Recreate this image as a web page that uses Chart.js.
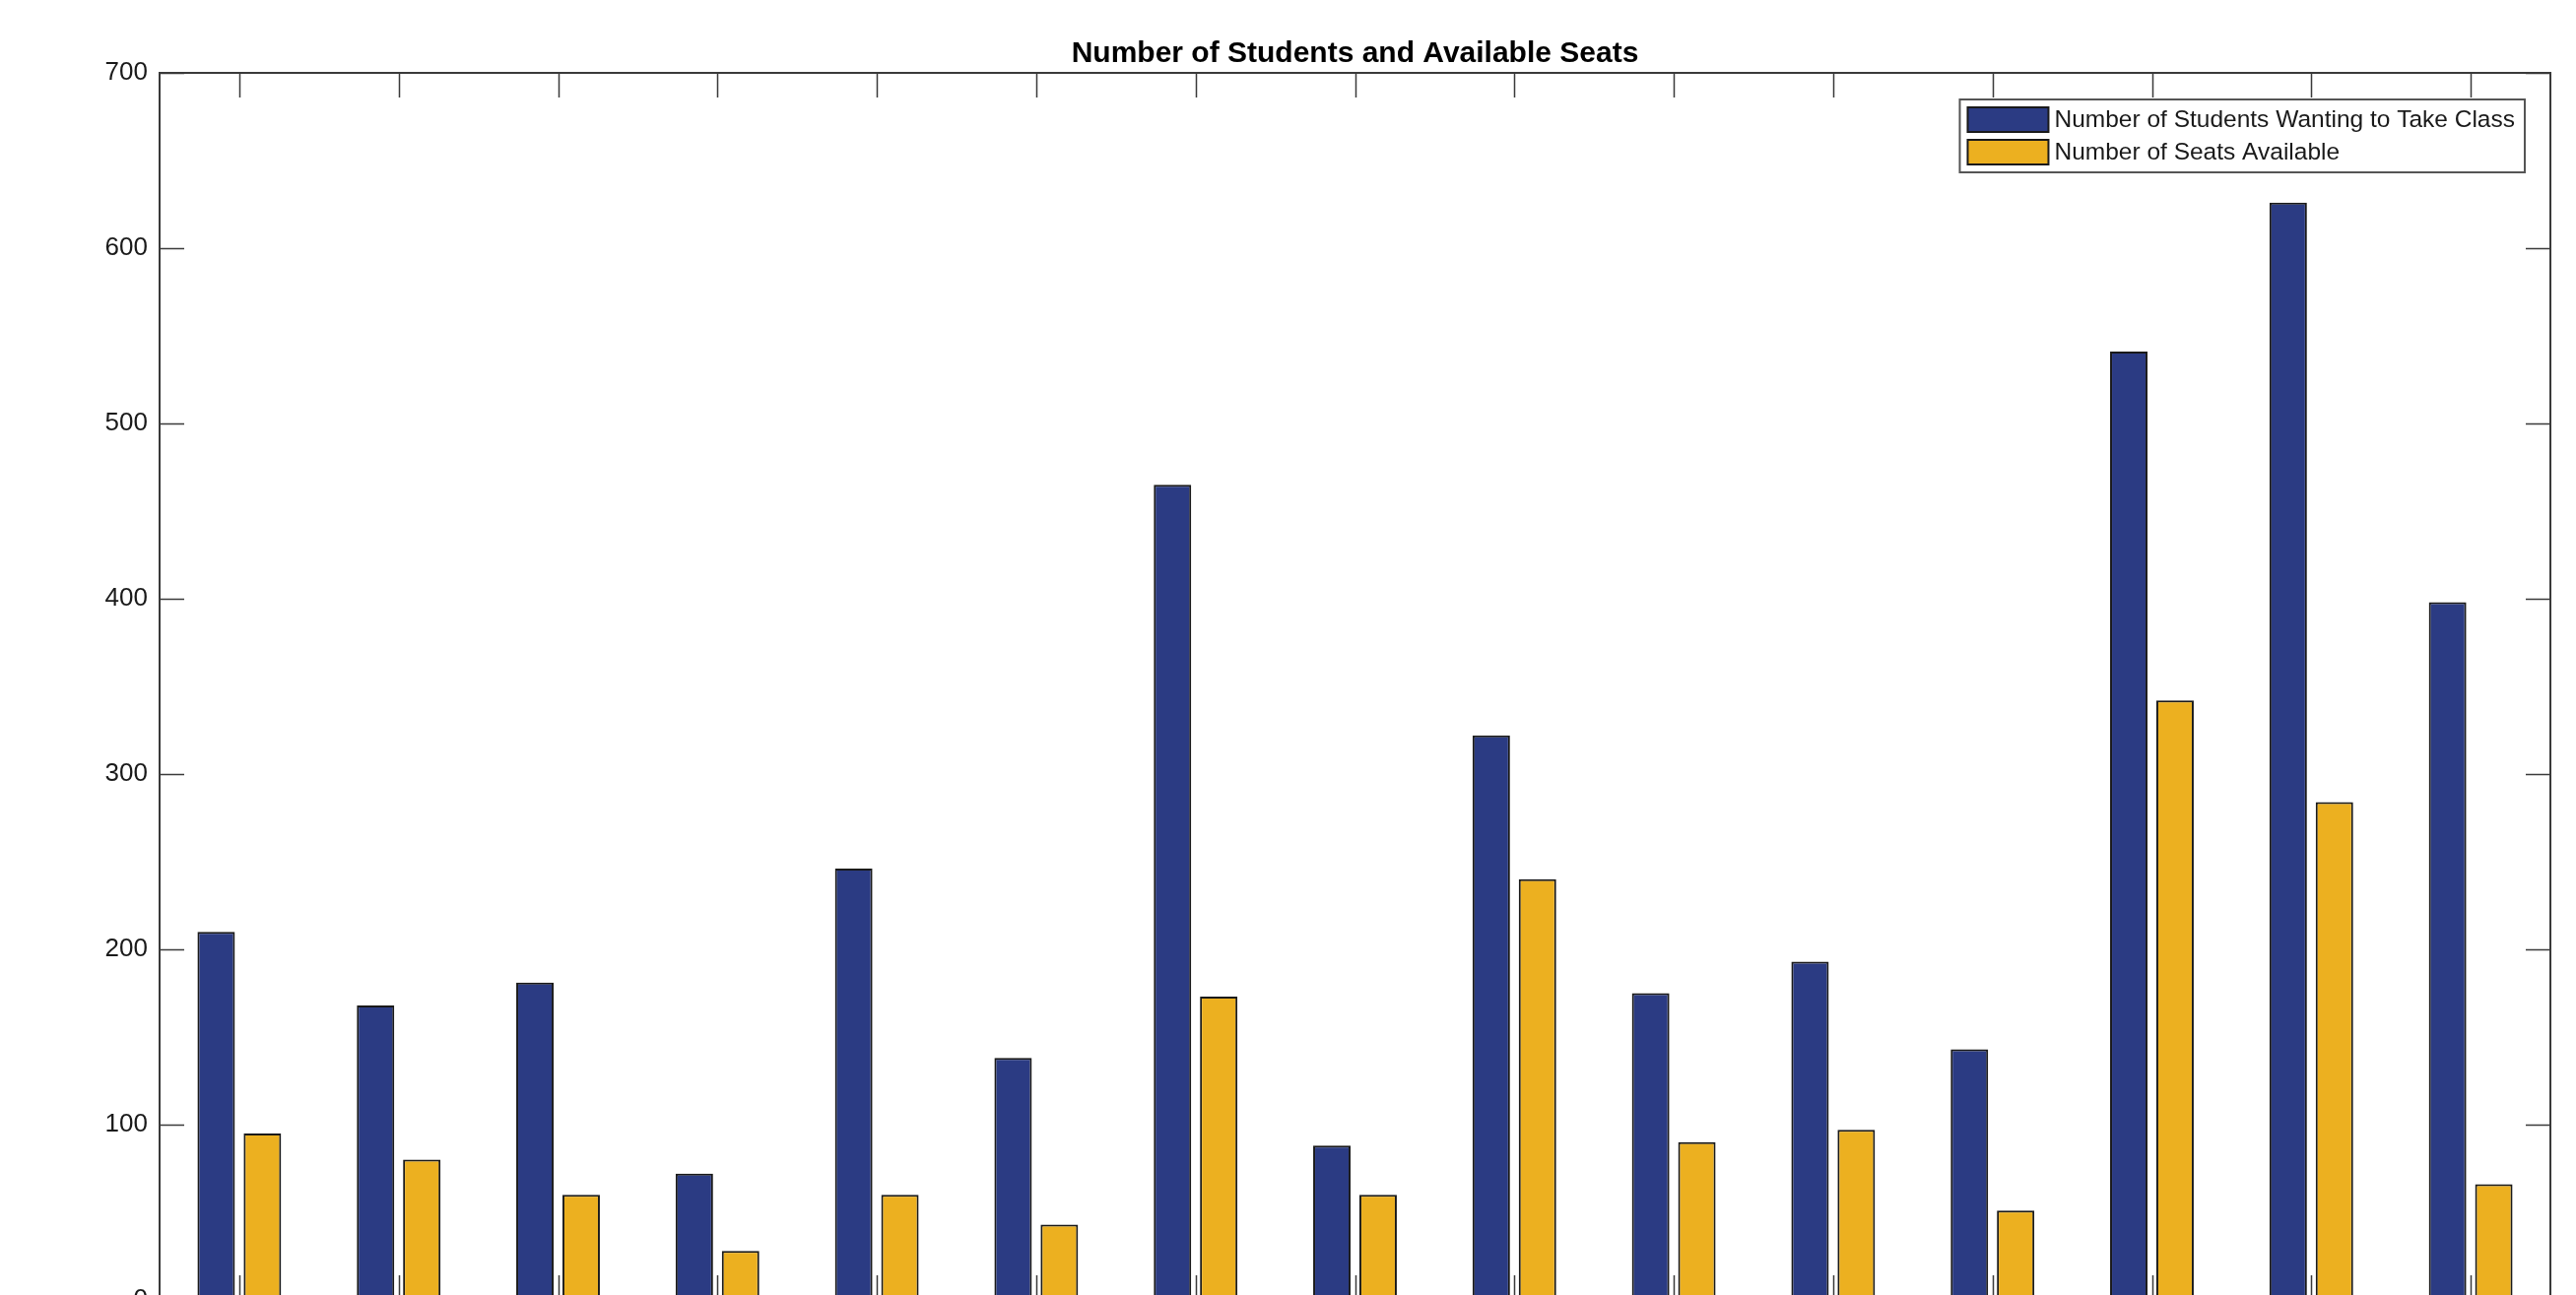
<!DOCTYPE html>
<html>
<head>
<meta charset="utf-8">
<script src="https://cdn.jsdelivr.net/npm/chart.js@4"></script>
<style>
  html, body { margin: 0; padding: 0; background: #fff; overflow: hidden; }
  #wrap { width: 2615px; height: 1400px; }
</style>
</head>
<body>
<div id="wrap"><canvas id="myChart" width="2615" height="1400"></canvas></div>
<script>
// data
const classes = ['1','2','3','4','5','6','7','8','9','10','11','12','13','14','15'];
const studentsWanting = [210, 168, 181, 72, 246, 138, 465, 88, 322, 175, 193, 143, 541, 626, 398];
const seatsAvailable = [95, 80, 60, 28, 60, 43, 173, 60, 240, 90, 97, 51, 342, 284, 66];
const yTicks = [0, 100, 200, 300, 400, 500, 600, 700];
const chartTitle = 'Number of Students and Available Seats';

const BLUE = 'rgb(43, 59, 131)';
const YELLOW = 'rgb(236, 176, 32)';
const AXIS = '#3a3a3a';
const FONT = '"Liberation Sans", Arial, sans-serif';

// box, inward ticks, title and legend, MATLAB style
const matlabAxes = {
  id: 'matlabAxes',
  afterDraw(chart) {
    const ctx = chart.ctx;
    const a = chart.chartArea;
    const x = chart.scales.x;
    const y = chart.scales.y;
    const len = 25;
    ctx.save();
    ctx.strokeStyle = AXIS;
    ctx.lineWidth = 2;
    ctx.strokeRect(a.left, a.top, a.right - a.left, a.bottom - a.top);
    ctx.beginPath();
    yTicks.forEach(v => {
      const py = Math.round(y.getPixelForValue(v)) + 0.5;
      ctx.moveTo(a.left, py); ctx.lineTo(a.left + len, py);
      ctx.moveTo(a.right, py); ctx.lineTo(a.right - len, py);
    });
    classes.forEach((c, i) => {
      const px = Math.round(x.getPixelForValue(i)) + 0.5;
      ctx.moveTo(px, a.top); ctx.lineTo(px, a.top + len);
      ctx.moveTo(px, a.bottom); ctx.lineTo(px, a.bottom - len);
    });
    ctx.lineWidth = 1.5;
    ctx.stroke();

    // title centred over the axes
    ctx.fillStyle = '#000';
    ctx.font = 'bold 30px ' + FONT;
    ctx.textAlign = 'center';
    ctx.textBaseline = 'middle';
    ctx.fillText(chartTitle, (a.left + a.right) / 2, a.top - 19);

    // legend
    ctx.font = '24.5px ' + FONT;
    const items = chart.data.datasets;
    let tw = 0;
    items.forEach(d => { tw = Math.max(tw, ctx.measureText(d.label).width); });
    const sw = 82, sh = 25, pad = 8, gap = 6, rowH = 33;
    const boxW = pad + sw + gap + tw + 10;
    const boxH = 74;
    const bx = a.right - 26 - boxW;
    const by = a.top + 27;
    ctx.fillStyle = '#fff';
    ctx.fillRect(bx, by, boxW, boxH);
    ctx.lineWidth = 2;
    ctx.strokeStyle = '#555';
    ctx.strokeRect(bx, by, boxW, boxH);
    items.forEach((d, i) => {
      const sy = by + 8 + i * rowH;
      ctx.fillStyle = d.backgroundColor;
      ctx.fillRect(bx + pad, sy, sw, sh);
      ctx.strokeStyle = '#1a1a1a';
      ctx.lineWidth = 2;
      ctx.strokeRect(bx + pad, sy, sw, sh);
      ctx.fillStyle = '#1a1a1a';
      ctx.textBaseline = 'middle';
      ctx.textAlign = 'left';
      ctx.fillText(d.label, bx + pad + sw + gap, sy + sh / 2 + 1);
    });
    ctx.restore();
  }
};

new Chart(document.getElementById('myChart'), {
  type: 'bar',
  data: {
    labels: classes,
    datasets: [
      {
        label: 'Number of Students Wanting to Take Class',
        data: studentsWanting,
        backgroundColor: BLUE,
        borderColor: '#1a1a1a',
        borderWidth: 2,
        borderSkipped: false
      },
      {
        label: 'Number of Seats Available',
        data: seatsAvailable,
        backgroundColor: YELLOW,
        borderColor: '#1a1a1a',
        borderWidth: 2,
        borderSkipped: false
      }
    ]
  },
  options: {
    responsive: false,
    animation: false,
    devicePixelRatio: 1,
    layout: { padding: { left: 0, right: 26, top: 74, bottom: 80 } },
    datasets: { bar: { categoryPercentage: 0.58, barPercentage: 0.81 } },
    plugins: {
      legend: { display: false },
      tooltip: { enabled: false },
      title: { display: false }
    },
    scales: {
      x: {
        display: false,
        offset: true,
        grid: { display: false }
      },
      y: {
        min: 0,
        max: 700,
        afterFit(scale) { scale.width = 162; },
        afterBuildTicks(scale) { scale.ticks = yTicks.map(v => ({ value: v })); },
        border: { display: false },
        grid: { display: false, drawTicks: false },
        ticks: {
          padding: 12,
          color: '#1a1a1a',
          font: { family: FONT, size: 26 }
        }
      }
    }
  },
  plugins: [matlabAxes]
});
</script>
</body>
</html>
